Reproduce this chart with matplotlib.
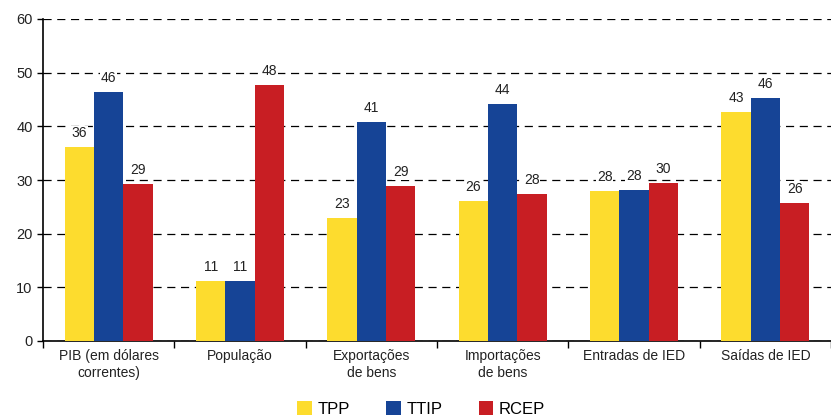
import matplotlib.pyplot as plt
import numpy as np

plt.rcParams['font.family'] = ['Liberation Sans', 'DejaVu Sans']

categories = ['PIB (em dólares\ncorrentes)', 'População', 'Exportações\nde bens',
              'Importações\nde bens', 'Entradas de IED', 'Saídas de IED']
series = ['TPP', 'TTIP', 'RCEP']
tpp = [36.1, 11.2, 22.9, 26.1, 27.9, 42.6]
ttip = [46.4, 11.2, 40.8, 44.1, 28.2, 45.3]
rcep = [29.2, 47.7, 28.9, 27.4, 29.4, 25.8]
tpp_labels = ['36', '11', '23', '26', '28', '43']
ttip_labels = ['46', '11', '41', '44', '28', '46']
rcep_labels = ['29', '48', '29', '28', '30', '26']
colors = ['#FDDC2E', '#164496', '#C81E23']

fig = plt.figure(figsize=(8.31, 4.2), dpi=100)
ax = fig.add_axes([43 / 831, 79 / 420, 788 / 831, 322 / 420])

x = np.arange(len(categories)) + 0.5
w = 0.223
for i, (vals, labs) in enumerate(zip([tpp, ttip, rcep], [tpp_labels, ttip_labels, rcep_labels])):
    bars = ax.bar(x + (i - 1) * w, vals, w, color=colors[i], label=series[i], zorder=3)
    texts = ax.bar_label(bars, labels=labs, padding=5, fontsize=10, color='#222222')
    for t in texts:
        t.set_bbox(dict(facecolor='white', edgecolor='none', pad=0.5))
        t.set_zorder(4)

ax.set_xlim(0, 6)
ax.set_ylim(0, 60)
ax.set_yticks(range(0, 61, 10))
ax.yaxis.grid(True, linestyle=(0, (6.5, 4.5)), color='black', linewidth=0.9, zorder=0)
ax.set_xticks(range(0, 7))
ax.set_xticklabels([])
ax.set_xticks(x, minor=True)
ax.set_xticklabels(categories, minor=True, fontsize=10, color='#222222')
ax.tick_params(axis='x', which='minor', length=0, pad=6)
ax.tick_params(axis='x', which='major', length=5, width=1)
ax.tick_params(axis='y', length=4, width=1, labelsize=10.5, labelcolor='#222222')
for s in ['top', 'right']:
    ax.spines[s].set_visible(False)
for s in ['left', 'bottom']:
    ax.spines[s].set_linewidth(1.2)

fig.legend(loc='center', bbox_to_anchor=(0.507, 0.026), ncol=3, frameon=False,
           handlelength=0.85, handleheight=0.9, columnspacing=2.2, handletextpad=0.35,
           fontsize=12)

fig.savefig('out.png', dpi=100)
